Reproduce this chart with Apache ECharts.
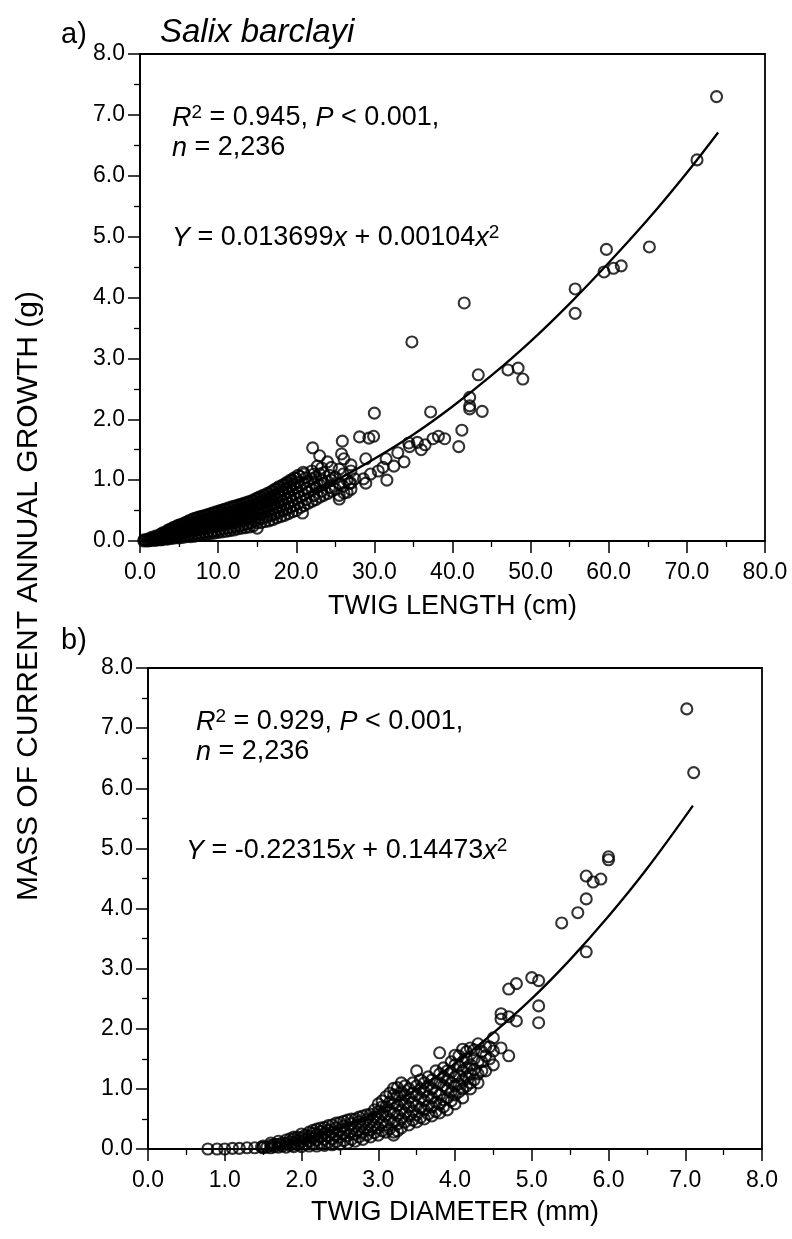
<!DOCTYPE html>
<html>
<head>
<meta charset="utf-8">
<script src="https://cdn.jsdelivr.net/npm/echarts@6/dist/echarts.min.js"></script>
<style>
html,body{margin:0;padding:0;background:#fff;}
#c{width:792px;height:1239px;}
</style>
</head>
<body>
<div id="c"></div>
<script>
// ---------- DATA ----------
// Panel a: twig length (cm) vs mass (g)
const topCloud = [
[0.5,0.0],[0.5,0.02],[1,0.0],[1,0.03],[1.5,0.01],[1.5,0.04],[1.5,0.06],[2,0.01],[2,0.05],[2,0.08],
[2.5,0.02],[2.5,0.06],[2.5,0.1],[3,0.03],[3,0.07],[3,0.11],[3,0.14],[3.5,0.03],[3.5,0.08],[3.5,0.13],[3.5,0.17],
[4,0.04],[4,0.1],[4,0.15],[4,0.2],[4.5,0.05],[4.5,0.11],[4.5,0.17],[4.5,0.23],[5,0.05],[5,0.12],[5,0.19],[5,0.26],
[5.5,0.06],[5.5,0.13],[5.5,0.21],[5.5,0.28],[6,0.07],[6,0.15],[6,0.23],[6,0.31],[6.5,0.07],[6.5,0.16],[6.5,0.25],[6.5,0.34],
[7,0.08],[7,0.17],[7,0.27],[7,0.37],[7.5,0.09],[7.5,0.19],[7.5,0.29],[7.5,0.39],[8,0.1],[8,0.2],[8,0.3],[8,0.4],
[8.5,0.11],[8.5,0.21],[8.5,0.32],[8.5,0.42],[9,0.12],[9,0.23],[9,0.33],[9,0.44],[9.5,0.13],[9.5,0.24],[9.5,0.35],[9.5,0.46],
[10,0.14],[10,0.25],[10,0.37],[10,0.48],[10.5,0.15],[10.5,0.27],[10.5,0.39],[10.5,0.5],[11,0.16],[11,0.28],[11,0.4],[11,0.52],
[11.5,0.17],[11.5,0.3],[11.5,0.42],[11.5,0.54],[12,0.18],[12,0.31],[12,0.44],[12,0.56],[12.5,0.2],[12.5,0.33],[12.5,0.46],[12.5,0.58],
[13,0.21],[13,0.34],[13,0.48],[13,0.6],[13.5,0.22],[13.5,0.36],[13.5,0.5],[13.5,0.62],[14,0.23],[14,0.38],[14,0.52],[14,0.64],
[14.5,0.25],[14.5,0.4],[14.5,0.54],[14.5,0.66],[15,0.21],[15,0.3],[15,0.45],[15,0.58],[15,0.7],[15.5,0.3],[15.5,0.44],[15.5,0.6],[15.5,0.72],
[16,0.32],[16,0.48],[16,0.62],[16,0.75],[16.5,0.33],[16.5,0.5],[16.5,0.65],[16.5,0.78],[17,0.35],[17,0.52],[17,0.68],[17,0.82],
[17.5,0.38],[17.5,0.55],[17.5,0.7],[17.5,0.86],[18,0.4],[18,0.58],[18,0.74],[18,0.89],[18.5,0.42],[18.5,0.6],[18.5,0.78],[18.5,0.93],
[19,0.45],[19,0.62],[19,0.8],[19,0.96],[19.5,0.48],[19.5,0.66],[19.5,0.84],[19.5,1.0],[20,0.5],[20,0.7],[20,0.88],[20,1.03],
[20.5,0.55],[20.5,0.72],[20.5,0.9],[20.5,1.06],[21,0.58],[21,0.76],[21,0.95],[21,1.1],[21.5,0.62],[21.5,0.8],[21.5,0.98],
[22,0.65],[22,0.85],[22,1.02],[22,1.15],[22.5,0.68],[22.5,0.88],[22.5,1.05],[23,0.72],[23,0.92],[23,1.1],[23.5,0.75],[23.5,0.95],[23.5,1.12],
[24,0.78],[24,0.98],[24.5,0.82],[24.5,1.0],[25,0.85],[25,1.05],[26,0.9],[26,1.1],[27,0.95],[27,1.15]
];
const topCloud2 = [
[0.75,0.01],[1.25,0.01],[1.25,0.03],[1.75,0.02],[1.75,0.05],[2.25,0.03],[2.25,0.07],[2.75,0.02],[2.75,0.05],[2.75,0.09],[2.75,0.12],
[3.25,0.04],[3.25,0.09],[3.25,0.13],[3.75,0.05],[3.75,0.1],[3.75,0.15],[3.75,0.19],[4.25,0.06],[4.25,0.12],[4.25,0.18],[4.25,0.22],
[4.75,0.07],[4.75,0.13],[4.75,0.2],[4.75,0.25],[5.25,0.08],[5.25,0.15],[5.25,0.22],[5.25,0.27],[5.75,0.09],[5.75,0.17],[5.75,0.24],[5.75,0.3],
[6.25,0.1],[6.25,0.18],[6.25,0.27],[6.25,0.33],[6.75,0.11],[6.75,0.2],[6.75,0.29],[6.75,0.36],[7.25,0.12],[7.25,0.22],[7.25,0.31],[7.25,0.38],
[7.75,0.13],[7.75,0.23],[7.75,0.33],[7.75,0.4],[8.25,0.14],[8.25,0.25],[8.25,0.35],[8.25,0.42],[8.75,0.15],[8.75,0.26],[8.75,0.37],[8.75,0.44],
[9.25,0.16],[9.25,0.28],[9.25,0.39],[9.25,0.46],[9.75,0.17],[9.75,0.29],[9.75,0.41],[9.75,0.48],[10.25,0.19],[10.25,0.31],[10.25,0.43],[10.25,0.5],
[10.75,0.2],[10.75,0.33],[10.75,0.45],[10.75,0.52],[11.25,0.21],[11.25,0.34],[11.25,0.46],[11.25,0.54],[11.75,0.22],[11.75,0.36],[11.75,0.48],[11.75,0.56],
[12.25,0.24],[12.25,0.37],[12.25,0.5],[12.25,0.58],[12.75,0.25],[12.75,0.39],[12.75,0.52],[12.75,0.6],[13.25,0.27],[13.25,0.41],[13.25,0.54],[13.25,0.62],
[13.75,0.28],[13.75,0.43],[13.75,0.56],[13.75,0.64],[14.25,0.3],[14.25,0.45],[14.25,0.58],[14.25,0.66],[14.75,0.33],[14.75,0.47],[14.75,0.6],[14.75,0.69],
[15.25,0.37],[15.25,0.51],[15.25,0.64],[15.25,0.72],[15.75,0.38],[15.75,0.53],[15.75,0.67],[15.75,0.75],[16.25,0.4],[16.25,0.55],[16.25,0.69],[16.25,0.78],
[16.75,0.42],[16.75,0.58],[16.75,0.72],[16.75,0.81],[17.25,0.44],[17.25,0.6],[17.25,0.75],[17.25,0.85],[17.75,0.47],[17.75,0.63],[17.75,0.79],[17.75,0.89],
[18.25,0.5],[18.25,0.66],[18.25,0.82],[18.25,0.92],[18.75,0.52],[18.75,0.7],[18.75,0.86],[18.75,0.96],[19.25,0.55],[19.25,0.72],[19.25,0.89],[19.25,1.0],
[19.75,0.58],[19.75,0.76],[19.75,0.93],[19.75,1.04],[20.25,0.62],[20.25,0.8],[20.25,0.96],[20.25,1.08],[21.25,0.68],[21.25,0.87],[21.25,1.04],
[22.25,0.75],[22.25,0.95],[22.25,1.1],[23.25,0.82],[23.25,1.0],[23.25,1.2],[24.25,0.88],[24.25,1.08],[25.5,0.75],[25.5,0.95],[25.5,1.18],[26.5,0.8],[26.5,1.0]
];
const topScatter = [
[22.1,1.53],[25.9,1.64],[28.1,1.71],[29.3,1.69],[29.9,1.72],[25.8,1.43],[26.1,1.35],[28.9,1.35],[22.7,1.23],[24.5,1.21],
[31.5,1.35],[31.1,1.21],[32.5,1.23],[33.8,1.3],[34.4,1.61],[31.6,1.0],[28.6,1.02],[28.9,0.95],[20.9,1.13],[26.1,0.79],
[25.5,0.69],[20.8,0.46],[26.8,0.95],[27.5,1.02],[27,0.85],[29.5,1.1],[30.5,1.15],[24,1.3],[23,1.4],[27,1.25],
[34.5,1.55],[35.5,1.62],[36.5,1.58],[37.5,1.68],[38.2,1.72],[39,1.68],[40.8,1.55],[41.2,1.82],[36,1.5],[33,1.45],
[30.0,2.1],[37.2,2.12],[42.2,2.36],[42.2,2.22],[42.2,2.17],[43.8,2.13],[43.3,2.73],[47.1,2.81],[48.4,2.84],[49.0,2.66],
[34.8,3.27],[41.5,3.91],[55.7,4.14],[55.7,3.74],[59.4,4.42],[60.6,4.48],[61.6,4.52],[59.7,4.79],[65.2,4.83],[71.3,6.26],[73.8,7.3]
];
const topFit = [[0,0],[5,0.09],[10,0.24],[15,0.44],[20,0.69],[25,0.99],[30,1.35],[35,1.75],[40,2.21],[45,2.72],[50,3.28],[55,3.9],[60,4.57],[65,5.28],[70,6.05],[74,6.71]];

// Panel b: twig diameter (mm) vs mass (g)
const botCloud = [
[0.78,0.0],[0.9,0.0],[1.0,0.0],[1.1,0.01],[1.19,0.01],[1.29,0.02],[1.39,0.02],[1.48,0.03],
[1.5,0.02],[1.5,0.05],[1.6,0.02],[1.6,0.06],[1.6,0.1],[1.7,0.03],[1.7,0.08],[1.7,0.13],[1.8,0.03],[1.8,0.09],[1.8,0.15],
[1.9,0.04],[1.9,0.1],[1.9,0.17],[1.9,0.2],[2.0,0.04],[2.0,0.12],[2.0,0.19],[2.0,0.25],[2.1,0.05],[2.1,0.13],[2.1,0.21],[2.1,0.28],
[2.2,0.05],[2.2,0.15],[2.2,0.24],[2.2,0.33],[2.3,0.06],[2.3,0.16],[2.3,0.26],[2.3,0.36],[2.4,0.07],[2.4,0.17],[2.4,0.28],[2.4,0.4],
[2.5,0.08],[2.5,0.2],[2.5,0.32],[2.5,0.44],[2.6,0.1],[2.6,0.22],[2.6,0.35],[2.6,0.48],[2.7,0.13],[2.7,0.25],[2.7,0.38],[2.7,0.5],
[2.8,0.16],[2.8,0.28],[2.8,0.42],[2.8,0.55],[2.9,0.2],[2.9,0.32],[2.9,0.45],[2.9,0.58],[3.0,0.23],[3.0,0.35],[3.0,0.5],[3.0,0.62],[3.0,0.75],
[3.1,0.28],[3.1,0.4],[3.1,0.55],[3.1,0.7],[3.1,0.87],[3.2,0.23],[3.2,0.28],[3.2,0.45],[3.2,0.6],[3.2,0.75],[3.2,0.9],[3.2,1.01],
[3.3,0.35],[3.3,0.5],[3.3,0.65],[3.3,0.8],[3.3,0.95],[3.3,1.1],[3.4,0.4],[3.4,0.55],[3.4,0.7],[3.4,0.85],[3.4,1.0],
[3.5,0.45],[3.5,0.57],[3.5,0.72],[3.5,0.9],[3.5,1.05],[3.5,1.3],[3.6,0.5],[3.6,0.65],[3.6,0.8],[3.6,0.95],[3.6,1.1],
[3.7,0.55],[3.7,0.7],[3.7,0.85],[3.7,1.0],[3.7,1.15],[3.8,0.6],[3.8,0.75],[3.8,0.9],[3.8,1.1],[3.8,1.25],[3.8,1.6],
[3.9,0.65],[3.9,0.85],[3.9,1.0],[3.9,1.15],[3.9,1.3],[4.0,0.75],[4.0,0.9],[4.0,1.05],[4.0,1.2],[4.0,1.4],[4.0,1.56],
[4.1,0.85],[4.1,1.0],[4.1,1.15],[4.1,1.3],[4.1,1.45],[4.1,1.66],[4.2,1.0],[4.2,1.1],[4.2,1.25],[4.2,1.4],[4.2,1.68],
[4.3,1.1],[4.3,1.25],[4.3,1.45],[4.3,1.75],[4.4,1.3],[4.4,1.55],[4.4,1.7],[4.5,1.4],[4.5,1.63],[4.5,1.85]
];
const botCloud2 = [
[1.55,0.03],[1.65,0.04],[1.65,0.08],[1.75,0.05],[1.75,0.1],[1.85,0.06],[1.85,0.12],[1.85,0.17],[1.95,0.07],[1.95,0.14],[1.95,0.2],
[2.05,0.08],[2.05,0.16],[2.05,0.23],[2.15,0.09],[2.15,0.18],[2.15,0.26],[2.15,0.31],[2.25,0.1],[2.25,0.2],[2.25,0.29],[2.25,0.35],
[2.35,0.11],[2.35,0.21],[2.35,0.31],[2.35,0.39],[2.45,0.12],[2.45,0.23],[2.45,0.35],[2.45,0.43],[2.55,0.14],[2.55,0.26],[2.55,0.38],[2.55,0.46],
[2.65,0.16],[2.65,0.29],[2.65,0.42],[2.65,0.5],[2.75,0.2],[2.75,0.32],[2.75,0.45],[2.75,0.53],[2.85,0.23],[2.85,0.35],[2.85,0.49],[2.85,0.57],
[2.95,0.27],[2.95,0.4],[2.95,0.53],[2.95,0.65],[3.05,0.3],[3.05,0.44],[3.05,0.58],[3.05,0.7],[3.05,0.8],
[3.15,0.34],[3.15,0.49],[3.15,0.63],[3.15,0.78],[3.15,0.93],[3.25,0.3],[3.25,0.42],[3.25,0.56],[3.25,0.72],[3.25,0.88],[3.25,1.02],
[3.35,0.45],[3.35,0.6],[3.35,0.75],[3.35,0.9],[3.35,1.05],[3.45,0.48],[3.45,0.63],[3.45,0.78],[3.45,0.93],[3.45,1.1],
[3.55,0.52],[3.55,0.68],[3.55,0.85],[3.55,1.0],[3.55,1.15],[3.65,0.58],[3.65,0.72],[3.65,0.88],[3.65,1.05],[3.65,1.2],
[3.75,0.62],[3.75,0.78],[3.75,0.95],[3.75,1.1],[3.75,1.3],[3.85,0.7],[3.85,0.82],[3.85,1.05],[3.85,1.2],[3.85,1.35],
[3.95,0.8],[3.95,0.95],[3.95,1.1],[3.95,1.28],[3.95,1.45],[4.05,0.95],[4.05,1.08],[4.05,1.22],[4.05,1.38],[4.05,1.55],
[4.15,1.05],[4.15,1.2],[4.15,1.35],[4.15,1.5],[4.15,1.62],[4.25,1.15],[4.25,1.32],[4.25,1.5],[4.25,1.65],[4.35,1.3],[4.35,1.45],[4.35,1.62],[4.45,1.5],[4.45,1.7]
];
const botScatter = [
[4.6,1.68],[4.6,2.16],[4.6,2.25],[4.7,1.55],[4.7,2.2],[4.7,2.66],[4.8,2.13],[4.8,2.75],[5.0,2.85],[5.09,2.8],[5.09,2.38],[5.09,2.1],
[5.39,3.76],[5.6,3.93],[5.71,4.16],[5.71,3.28],[5.71,4.54],[5.8,4.44],[5.9,4.49],[6.0,4.86],[6.0,4.81],[7.02,7.32],[7.11,6.26]
];
const botFit = [[1.54,0],[2,0.13],[2.5,0.35],[3,0.63],[3.5,0.99],[4,1.42],[4.5,1.93],[5,2.5],[5.5,3.15],[6,3.87],[6.5,4.66],[7.1,5.71]];

const xTicksTop = {min:0,max:80,interval:10};
const xTicksBot = {min:0,max:8,interval:1};
const yTicks = {min:0,max:8,interval:1};

// ---------- CHART ----------
const F = "'Liberation Sans', Arial, sans-serif";
const chart = echarts.init(document.getElementById('c'), null, {renderer:'canvas'});
const black = '#000';
function xAxis(grid, t, name, gap){
  return {type:'value', gridIndex:grid, min:t.min, max:t.max, interval:t.interval,
    axisLine:{show:true,onZero:false,lineStyle:{color:black,width:1.8}},
    axisTick:{show:true,inside:false,length:12,lineStyle:{color:black,width:1.5}},
    minorTick:{show:true,splitNumber:2,length:6,lineStyle:{color:black,width:1.3}},
    splitLine:{show:false}, minorSplitLine:{show:false},
    axisLabel:{color:black,fontSize:23,fontFamily:F,margin:20,showMinLabel:true,showMaxLabel:true,hideOverlap:false,
      formatter:v=>v.toFixed(1)},
    name:name, nameLocation:'middle', nameGap:gap,
    nameTextStyle:{color:black,fontSize:27,fontFamily:F,verticalAlign:'top'}
  };
}
function yAxis(grid, t){
  return {type:'value', gridIndex:grid, min:t.min, max:t.max, interval:t.interval,
    axisLine:{show:true,onZero:false,lineStyle:{color:black,width:1.8}},
    axisTick:{show:true,inside:false,length:12,lineStyle:{color:black,width:1.5}},
    minorTick:{show:true,splitNumber:2,length:6,lineStyle:{color:black,width:1.3}},
    splitLine:{show:false}, minorSplitLine:{show:false},
    axisLabel:{color:black,fontSize:23,fontFamily:F,margin:15,showMinLabel:true,showMaxLabel:true,hideOverlap:false,
      formatter:v=>v.toFixed(1)}
  };
}
const circ = {symbol:'circle', symbolSize:11,
  itemStyle:{color:'rgba(255,255,255,0)', borderColor:black, borderWidth:2.1}};
function scatter(x,y,data){
  return Object.assign({type:'scatter', xAxisIndex:x, yAxisIndex:y, data:data, silent:true, z:2,
    emphasis:{disabled:true}}, circ);
}
function fit(x,y,data){
  return {type:'line', xAxisIndex:x, yAxisIndex:y, data:data, smooth:0.4, showSymbol:false, symbol:'none',
    lineStyle:{color:black,width:2.3}, silent:true, z:3};
}
const rich = {
  n:{fontSize:27,fontFamily:F,fontWeight:'normal',color:black,lineHeight:30},
  i:{fontSize:27,fontFamily:F,fontWeight:'normal',color:black,fontStyle:'italic',lineHeight:30},
  s:{fontSize:19,fontFamily:F,fontWeight:'normal',color:black,verticalAlign:'top',lineHeight:12}
};
function note(text,left,top){
  return {text:text,left:left,top:top,padding:0,itemGap:0,textStyle:{rich:rich,fontSize:27,fontWeight:'normal',fontFamily:F,color:black}};
}
chart.setOption({
  animation:false,
  backgroundColor:'#fff',
  grid:[
    {left:140,right:27,top:54,bottom:698,show:true,borderColor:black,borderWidth:1.8,backgroundColor:'rgba(0,0,0,0)'},
    {left:148,right:30,top:668,bottom:90,show:true,borderColor:black,borderWidth:1.8,backgroundColor:'rgba(0,0,0,0)'}
  ],
  xAxis:[xAxis(0,xTicksTop,'TWIG LENGTH (cm)',52), xAxis(1,xTicksBot,'TWIG DIAMETER (mm)',50)],
  yAxis:[yAxis(0,yTicks), yAxis(1,yTicks)],
  title:[
    {text:'a)',left:61,top:20,padding:0,textStyle:{fontSize:29,fontWeight:'normal',fontFamily:F,color:black}},
    {text:'Salix barclayi',left:160,top:16,padding:0,textStyle:{fontSize:33,fontWeight:'normal',fontStyle:'italic',fontFamily:F,color:black}},
    note('{i|R}{s|2}{n| = 0.945, }{i|P}{n| < 0.001,}\n{i|n}{n| = 2,236}',172,103),
    note('{i|Y}{n| = 0.013699}{i|x}{n| + 0.00104}{i|x}{s|2}',172,223),
    {text:'b)',left:61,top:626,padding:0,textStyle:{fontSize:29,fontWeight:'normal',fontFamily:F,color:black}},
    note('{i|R}{s|2}{n| = 0.929, }{i|P}{n| < 0.001,}\n{i|n}{n| = 2,236}',196,707),
    note('{i|Y}{n| = -0.22315}{i|x}{n| + 0.14473}{i|x}{s|2}',186,836)
  ],
  graphic:[
    {type:'text', x:29, y:596, rotation:Math.PI/2,
     style:{text:'MASS OF CURRENT ANNUAL GROWTH (g)', fill:black, font:"30px 'Liberation Sans', Arial, sans-serif",
       textAlign:'center', textVerticalAlign:'middle'}}
  ],
  series:[
    scatter(0,0,topCloud), scatter(0,0,topCloud2), scatter(0,0,topScatter), fit(0,0,topFit),
    scatter(1,1,botCloud), scatter(1,1,botCloud2), scatter(1,1,botScatter), fit(1,1,botFit)
  ]
});
</script>
</body>
</html>
